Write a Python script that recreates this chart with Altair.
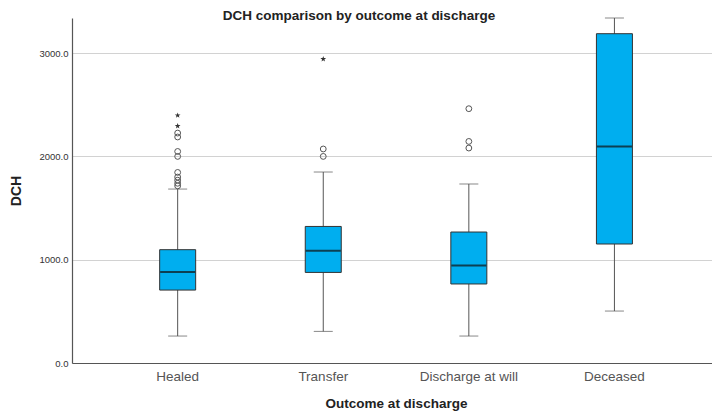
import altair as alt
import pandas as pd

# ---- data ----
categories = ["Healed", "Transfer", "Discharge at will", "Deceased"]
q1 = [706, 877, 765, 1152]
median = [881, 1087, 945, 2097]
q3 = [1097, 1322, 1268, 3188]
whisk_lo = [261, 306, 261, 503]
whisk_hi = [1684, 1849, 1733, 3340]

outlier_cat = (["Healed"] * 9 + ["Transfer"] * 2 + ["Discharge at will"] * 3)
outlier_val = [1715, 1740, 1770, 1800, 1845, 2000, 2048, 2188, 2226,
               2000, 2072,
               2081, 2145, 2462]

extreme_cat = ["Healed", "Healed", "Transfer"]
extreme_val = [2294, 2397, 2943]

# ---- tables ----
box_df = pd.DataFrame({"cat": categories, "q1": q1, "median": median,
                       "q3": q3, "lo": whisk_lo, "hi": whisk_hi})
out_df = pd.DataFrame({"cat": outlier_cat, "v": outlier_val})
ext_df = pd.DataFrame({"cat": extreme_cat, "v": extreme_val})

FONT = "Liberation Sans"
STAR = ("M0,-1L0.235,-0.324L0.951,-0.309L0.380,0.124L0.588,0.809L0,0.4"
        "L-0.588,0.809L-0.380,0.124L-0.951,-0.309L-0.235,-0.324Z")

xscale = alt.Scale(domain=categories, paddingInner=0.5, paddingOuter=0.448, align=0.531)
yscale = alt.Scale(domain=[0, 3340], nice=False)

x_axis = alt.Axis(
    orient="bottom",
    title="Outcome at discharge", titleFont=FONT, titleFontSize=13.5, titleFontWeight="bold",
    titleColor="#222222", titleX=324, titleY=44, titleBaseline="alphabetic",
    labelFont=FONT, labelFontSize=13.5, labelColor="#555555", labelAngle=0,
    labelBaseline="alphabetic", labelPadding=17, ticks=False,
    domainColor="#555555", domainWidth=1.2, grid=False,
)
y_axis = alt.Axis(
    orient="left",
    title="DCH", titleFont=FONT, titleFontSize=14, titleFontWeight="bold",
    titleColor="#222222", titleX=-52, titleY=172.5, titleBaseline="alphabetic", titleAngle=-90,
    titleAlign="center",
    values=[0, 1000, 2000, 3000], format=".1f",
    labelFont=FONT, labelFontSize=9.5, labelColor="#333333", labelPadding=4, ticks=False,
    domainColor="#555555", domainWidth=1.2,
    grid=True, gridColor="#d2d2d2", gridWidth=1,
)


def Xa():
    return alt.X("cat:N", scale=xscale, axis=x_axis, sort=categories)


def Ya(field):
    return alt.Y(field, scale=yscale, axis=y_axis)


base = alt.Chart(box_df)

whisker = base.mark_rule(color="#555555", strokeWidth=1).encode(
    x=Xa(), y=Ya("lo:Q"), y2="hi:Q")
cap_lo = base.mark_tick(color="#555555", size=19, thickness=1).encode(
    x=Xa(), y=Ya("lo:Q"))
cap_hi = base.mark_tick(color="#555555", size=19, thickness=1).encode(
    x=Xa(), y=Ya("hi:Q"))
box = base.mark_bar(size=36, color="#00AEEF", stroke="#333333", strokeWidth=1).encode(
    x=Xa(), y=Ya("q1:Q"), y2="q3:Q")
med = base.mark_tick(color="#111111", size=35, thickness=2).encode(
    x=Xa(), y=Ya("median:Q"))

outl = alt.Chart(out_df).mark_point(shape="circle", size=34, filled=False,
                                    color="#555555", strokeWidth=1, opacity=1).encode(
    x=Xa(), y=Ya("v:Q"))
ext = alt.Chart(ext_df).mark_point(shape=STAR, size=36, filled=True,
                                   color="#333333", opacity=1).encode(
    x=Xa(), y=Ya("v:Q"))

chart = alt.layer(whisker, cap_lo, cap_hi, box, med, outl, ext).properties(
    width=640, height=345,
    autosize=alt.AutoSizeParams(type="none"),
    padding={"left": 64, "top": 10, "right": 0, "bottom": 50},
    title=alt.TitleParams("DCH comparison by outcome at discharge", font=FONT, fontSize=13.5,
                          fontWeight="bold", color="#222222", anchor="middle",
                          dx=-33, dy=8, offset=3),
).configure(background="white", view=alt.ViewConfig(stroke=None))

chart.save("out.html", embed_options={"renderer": "svg", "actions": False})
